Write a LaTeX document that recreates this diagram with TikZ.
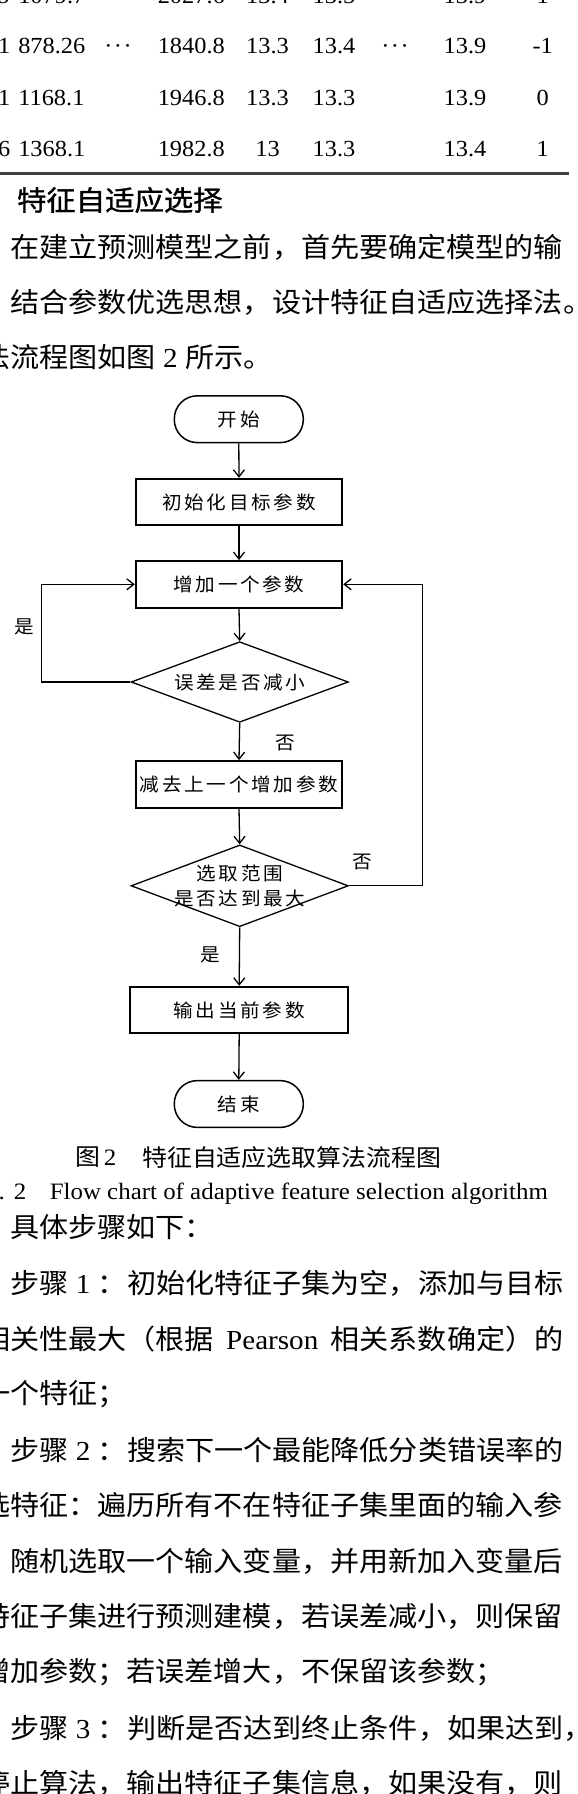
\documentclass[tikz,border=0pt]{standalone}
\usepackage{fontspec}
\setmainfont[FakeStretch=1.06]{Liberation Serif}
\newfontfamily\cjk[FakeStretch=1.06]{Noto Sans CJK SC}
\newfontfamily\cjkh[FakeStretch=1.06,FakeBold=1.2]{Noto Sans CJK SC}
\usetikzlibrary{shapes.geometric,arrows.meta}
\makeatletter
\newcommand\spgap{\hspace{2.7pt}}
\def\spA#1#2{#1\ifx\relax#2\expandafter\@gobble\else\expandafter\@firstofone\fi{\spgap\spA#2}}
\newcommand\spc[1]{\spA#1\relax}
\makeatother
\newcommand\fbody{\cjk\fontsize{27.45}{30}\selectfont}
\newcommand\fhead{\cjkh\fontsize{27.7}{30}\selectfont}
\newcommand\fcap{\cjk\fontsize{23.5}{26}\selectfont}
\newcommand\ffig{\cjk\fontsize{18.5}{25}\selectfont}
\newcommand\ftab{\rmfamily\fontsize{23}{26}\selectfont}
\newcommand\fcapl{\rmfamily\fontsize{23.5}{26}\selectfont}
\newcommand\lt[1]{{\rmfamily #1}}
\definecolor{rulec}{HTML}{404040}
\begin{document}
\begin{tikzpicture}[x=1pt,y=-1pt,
  txt/.style={inner sep=0pt,outer sep=0pt,anchor=west,font=\fbody},
  tb/.style={inner sep=0pt,outer sep=0pt,anchor=base,font=\ftab},
  fbox/.style={draw=black,line width=1.8pt,minimum width=206.6pt,minimum height=46.6pt,inner sep=0pt,font=\ffig},
  term/.style={draw=black,line width=1.5pt,rounded corners=23pt,minimum width=129pt,minimum height=46.8pt,inner sep=0pt,font=\ffig},
  dia/.style={draw=black,line width=1.3pt,diamond,minimum width=217.3pt,inner sep=0pt},
  arr/.style={draw=black,line width=1.3pt,-{Straight Barb[length=7pt,width=11pt]}},
  lab/.style={inner sep=0pt,outer sep=0pt,font=\ffig}]
\useasboundingbox (0,0) rectangle (578,1794);
\clip (0,0) rectangle (578,1794);
\fill[white] (0,0) rectangle (578,1794);

% ---------- table ----------
\node[tb,anchor=base east] (a1) at (10.2,3.3) {9};
\node[tb,anchor=base west] (b1x) at (18.3,3.3) {1079.7};
\node[tb,anchor=base west] (dd1) at (157.8,3.3) {2027.6};
\node[tb] (e1) at (267.5,3.3) {13.4};
\node[tb] (f1) at (334,3.3) {13.5};
\node[tb] (h1) at (465,3.3) {13.9};
\node[tb] (i1) at (542.7,3.3) {1};

\node[tb,anchor=base east] (a2) at (10.2,53.3) {1};
\node[tb,anchor=base west] (b2x) at (18.3,53.3) {878.26};
\node[tb] (c2) at (118,53.3) {·\hspace{1.5pt}·\hspace{1.5pt}·};
\node[tb,anchor=base west] (dd2) at (157.8,53.3) {1840.8};
\node[tb] (e2) at (267.5,53.3) {13.3};
\node[tb] (f2) at (334,53.3) {13.4};
\node[tb] (g2) at (395,53.3) {·\hspace{1.5pt}·\hspace{1.5pt}·};
\node[tb] (h2) at (465,53.3) {13.9};
\node[tb] (i2) at (542.7,53.3) {-1};

\node[tb,anchor=base east] (a3) at (10.2,105) {1};
\node[tb,anchor=base west] (b3x) at (18.3,105) {1168.1};
\node[tb,anchor=base west] (dd3) at (157.8,105) {1946.8};
\node[tb] (e3) at (267.5,105) {13.3};
\node[tb] (f3) at (334,105) {13.3};
\node[tb] (h3) at (465,105) {13.9};
\node[tb] (i3) at (542.7,105) {0};

\node[tb,anchor=base east] (a4) at (10.2,156.5) {6};
\node[tb,anchor=base west] (b4x) at (18.3,156.5) {1368.1};
\node[tb,anchor=base west] (dd4) at (157.8,156.5) {1982.8};
\node[tb] (e4) at (267.5,156.5) {13};
\node[tb] (f4) at (334,156.5) {13.3};
\node[tb] (h4) at (465,156.5) {13.4};
\node[tb] (i4) at (542.7,156.5) {1};

\draw[rulec,line width=2.6pt] (0,173.3) -- (569,173.3);

% ---------- heading and paragraph ----------
\node[txt,font=\fhead] (head) at (17.1,200) {特征自适应选择};
\node[txt] (p1) at (10.2,247.5) {在建立预测模型之前，首先要确定模型的输};
\node[txt] (p2) at (10.2,302.5) {结合参数优选思想，设计特征自适应选择法。};
\node[txt] (p3) at (-18.9,357.5) {法流程图如图\hspace{7.5pt}\lt{2}\hspace{7.5pt}所示。};

% ---------- flowchart ----------
\node[term] (start) at (238.8,419.2) {{\def\spgap{\hspace{3.9pt}}\spc{开始}}};
\node[fbox] (s1) at (239,502) {\spc{初始化目标参数}};
\node[fbox] (s2) at (239,584.3) {\spc{增加一个参数}};
\node[dia,minimum height=80.6pt] (d1) at (239.7,682) {};
\node[lab] (d1t) at (d1.center) {\spc{误差是否减小}};
\node[fbox] (s3) at (239,784.3) {\spc{减去上一个增加参数}};
\node[dia,minimum height=81.7pt] (d2) at (239.7,885.8) {};
\node[lab] (d2a) at (239.7,873.5) {\spc{选取范围}};
\node[lab] (d2b) at (239.7,898) {\spc{是否达到最大}};
\node[fbox,minimum width=218.3pt] (s4) at (239.2,1010) {\spc{输出当前参数}};
\node[term] (stop) at (238.8,1104) {{\def\spgap{\hspace{3.9pt}}\spc{结束}}};

\coordinate (lx) at (41.7,682);
\coordinate (rx) at (422.3,885.8);

\draw[arr] (start.south) -- (s1.north);
\draw[arr] (s1.south) -- (s2.north);
\draw[arr] (s2.south) -- (d1.north);
\draw[arr] (d1.south) -- (s3.north);
\draw[arr] (s3.south) -- (d2.north);
\draw[arr] (d2.south) -- (s4.north);
\draw[arr] (s4.south) -- (stop.north);
\draw[arr] (d1.west) -- (lx) |- (s2.west);
\draw[arr] (d2.east) -- (rx) |- (s2.east);

\node[lab] (yes1) at (24.2,626.7) {是};
\node[lab] (no1) at (285.8,742.5) {否};
\node[lab] (no2) at (362.5,861.7) {否};
\node[lab] (yes2) at (210,955) {是};

% ---------- captions ----------
\node[txt,font=\fcap] (cap1a) at (75,1157.5) {图\hspace{4pt}\lt{2}};
\node[txt,font=\fcap] (cap1b) at (142.2,1157.5) {特征自适应选取算法流程图};
\node[inner sep=0pt,anchor=base east,font=\fcapl] (cap2a) at (5.0,1199.5) {Fig.};
\node[inner sep=0pt,anchor=base west,font=\fcapl] (cap2b) at (13.6,1199.5) {2};
\node[inner sep=0pt,anchor=base west,font=\fcapl] (cap2c) at (49.6,1199.5) {Flow chart of adaptive feature selection algorithm};

% ---------- steps ----------
\node[txt] (q1) at (10.2,1227.5) {具体步骤如下：};
\node[txt] (q2) at (10.2,1283.1) {步骤\hspace{7.5pt}\lt{1}\hspace{7.5pt}：初始化特征子集为空，添加与目标};
\node[txt] (q3) at (-18.9,1338.7) {相关性最大（根据\hspace{12.35pt}\lt{Pearson}\hspace{12.35pt}相关系数确定）的};
\node[txt] (q4) at (-18.9,1394.3) {一个特征；};
\node[txt] (q5) at (10.2,1449.9) {步骤\hspace{7.5pt}\lt{2}\hspace{7.5pt}：搜索下一个最能降低分类错误率的};
\node[txt] (q6) at (-18.9,1505.5) {选特征：遍历所有不在特征子集里面的输入参};
\node[txt] (q7) at (10.2,1561.1) {随机选取一个输入变量，并用新加入变量后};
\node[txt] (q8) at (-18.9,1616.7) {特征子集进行预测建模，若误差减小，则保留};
\node[txt] (q9) at (-18.9,1672.3) {增加参数；若误差增大，不保留该参数；};
\node[txt] (q10) at (10.2,1727.9) {步骤\hspace{7.5pt}\lt{3}\hspace{7.5pt}：判断是否达到终止条件，如果达到，};
\node[txt] (q11) at (-18.9,1783.5) {停止算法，输出特征子集信息，如果没有，则};
\end{tikzpicture}
\end{document}
